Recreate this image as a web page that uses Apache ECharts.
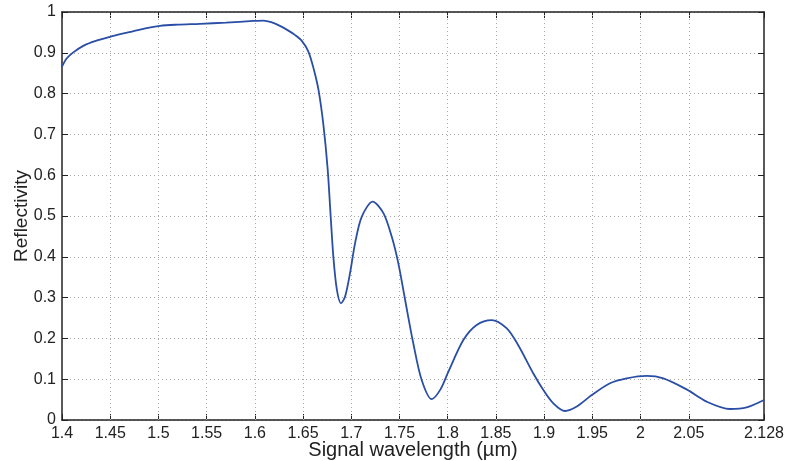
<!DOCTYPE html>
<html><head><meta charset="utf-8">
<script src="https://cdn.jsdelivr.net/npm/echarts@6/dist/echarts.min.js"></script>
<style>html,body{margin:0;padding:0;background:#fff}#c{width:787px;height:461px}</style>
</head><body><div id="c"></div>
<script>
const wavelength = [1.400,1.4048,1.4117,1.4221,1.435,1.4498,1.465,1.481,1.5017,1.52,1.543,1.57,1.5984,1.609,1.617,1.626,1.6343,1.6415,1.6485,1.6555,1.6613,1.666,1.671,1.6755,1.6786,1.6814,1.685,1.6893,1.6935,1.6987,1.7039,1.7108,1.7222,1.7333,1.742,1.7488,1.7557,1.7643,1.773,1.7834,1.7925,1.8006,1.8162,1.83,1.8456,1.861,1.873,1.8888,1.8992,1.9095,1.9217,1.9338,1.9494,1.9683,1.9856,2.0063,2.0236,2.0477,2.0685,2.0927,2.11,2.128];
const reflectivity = [0.866,0.886,0.901,0.917,0.929,0.939,0.948,0.957,0.966,0.969,0.971,0.974,0.978,0.979,0.975,0.966,0.955,0.944,0.930,0.903,0.858,0.809,0.725,0.615,0.50,0.40,0.32,0.286,0.302,0.36,0.433,0.498,0.535,0.507,0.449,0.384,0.296,0.188,0.098,0.051,0.075,0.118,0.196,0.233,0.245,0.225,0.184,0.114,0.0735,0.041,0.022,0.033,0.061,0.09,0.102,0.108,0.102,0.075,0.045,0.027,0.031,0.049];
const xTicks = [1.4,1.45,1.5,1.55,1.6,1.65,1.7,1.75,1.8,1.85,1.9,1.95,2,2.05,2.128];
const yTicks = [0,0.1,0.2,0.3,0.4,0.5,0.6,0.7,0.8,0.9,1];
const xLabelTexts = ['1.4','1.45','1.5','1.55','1.6','1.65','1.7','1.75','1.8','1.85','1.9','1.95','2','2.05','2.128'];
const yLabelTexts = ['0','0.1','0.2','0.3','0.4','0.5','0.6','0.7','0.8','0.9','1'];

const font = 'Liberation Sans, Arial, sans-serif';
const chart = echarts.init(document.getElementById('c'), null, {renderer:'canvas'});
const fmtX = v => { for (let i=0;i<xTicks.length;i++) if (Math.abs(xTicks[i]-v)<1e-6) return xLabelTexts[i]; return ''; };
const fmtY = v => { for (let i=0;i<yTicks.length;i++) if (Math.abs(yTicks[i]-v)<1e-6) return yLabelTexts[i]; return ''; };
const gridDash = {color:'#a8a8a8', type:[1,3], width:1};
chart.setOption({
  animation:false,
  backgroundColor:'#fff',
  grid: {left:62, right:23, top:12, bottom:41, outerBoundsMode:'none', containLabel:false},
  xAxis:[{
    type:'value', min:1.4, max:2.128, position:'bottom',
    name:'Signal wavelength (µm)', nameLocation:'middle', nameGap:20, nameMoveOverlap:false,
    nameTextStyle:{fontFamily:font, fontSize:20, color:'#222'},
    axisLine:{show:true, onZero:false, lineStyle:{color:'#222', width:1.5}},
    axisTick:{show:true, inside:true, length:6, customValues:xTicks, lineStyle:{color:'#222'}},
    axisLabel:{show:true, customValues:xTicks, formatter:fmtX, fontFamily:font, fontSize:16, color:'#222', margin:6},
    splitLine:{show:false}
  },{
    type:'value', min:1.4, max:2.128, position:'top',
    axisLine:{show:true, onZero:false, lineStyle:{color:'#222', width:1.5}},
    axisTick:{show:true, inside:true, length:6, customValues:xTicks, lineStyle:{color:'#222'}},
    axisLabel:{show:false}, splitLine:{show:false}
  }],
  yAxis:[{
    type:'value', min:0, max:1, interval:0.1, position:'left',
    name:'Reflectivity', nameLocation:'middle', nameGap:31, nameRotate:90, nameMoveOverlap:false,
    nameTextStyle:{fontFamily:font, fontSize:19, color:'#222'},
    axisLine:{show:true, onZero:false, lineStyle:{color:'#222', width:1.5}},
    axisTick:{show:true, inside:true, length:6, lineStyle:{color:'#222'}},
    axisLabel:{formatter:fmtY, fontFamily:font, fontSize:16, color:'#222', margin:6},
    splitLine:{show:true, lineStyle:gridDash}
  },{
    type:'value', min:0, max:1, interval:0.1, position:'right',
    axisLine:{show:true, onZero:false, lineStyle:{color:'#222', width:1.5}},
    axisTick:{show:true, inside:true, length:6, lineStyle:{color:'#222'}},
    axisLabel:{show:false}, splitLine:{show:false}
  }],
  series:[{
    type:'line', xAxisIndex:0, yAxisIndex:0,
    data: wavelength.map((x,i)=>[x, reflectivity[i]]),
    smooth:0.3, showSymbol:false, symbol:'none', z:3,
    lineStyle:{color:'#2a4ea6', width:1.8},
    markLine:{
      silent:true, symbol:['none','none'], label:{show:false}, z:1,
      lineStyle:gridDash, emphasis:{disabled:true},
      data: xTicks.slice(1,-1).map(v=>({xAxis:v}))
    }
  }]
});
</script></body></html>
